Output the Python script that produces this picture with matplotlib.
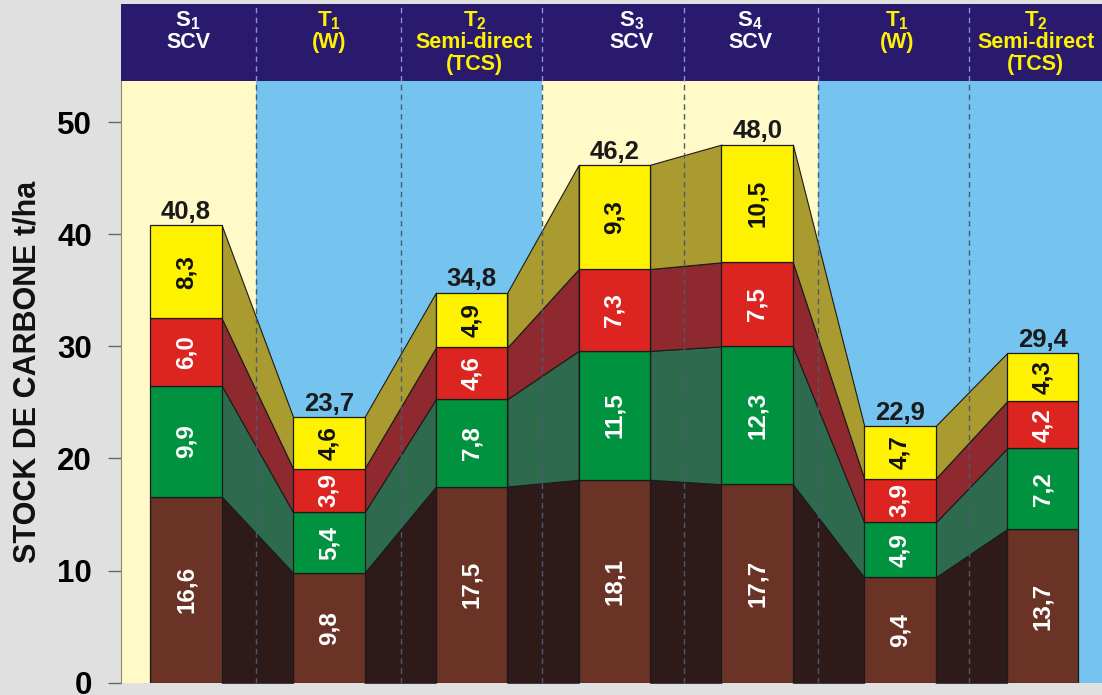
import matplotlib
matplotlib.use("Agg")
import matplotlib.pyplot as plt
from matplotlib.patches import Rectangle

plt.rcParams['font.family'] = ['Liberation Sans', 'DejaVu Sans']
plt.rcParams['font.weight'] = 'bold'
plt.rcParams['mathtext.fontset'] = 'custom'
plt.rcParams['mathtext.bf'] = 'Liberation Sans:bold'
plt.rcParams['mathtext.rm'] = 'Liberation Sans:bold'

# données (t/ha)
treatments = ['S1', 'T1', 'T2', 'S3', 'S4', 'T1', 'T2']
header_top = [r'$\mathbf{S}_{\mathbf{1}}$', r'$\mathbf{T}_{\mathbf{1}}$', r'$\mathbf{T}_{\mathbf{2}}$',
              r'$\mathbf{S}_{\mathbf{3}}$', r'$\mathbf{S}_{\mathbf{4}}$', r'$\mathbf{T}_{\mathbf{1}}$',
              r'$\mathbf{T}_{\mathbf{2}}$']
header_sub = [['SCV'], ['(W)'], ['Semi-direct', '(TCS)'], ['SCV'], ['SCV'], ['(W)'],
              ['Semi-direct', '(TCS)']]
brown = [16.6, 9.8, 17.5, 18.1, 17.7, 9.4, 13.7]
green = [9.9, 5.4, 7.8, 11.5, 12.3, 4.9, 7.2]
red = [6.0, 3.9, 4.6, 7.3, 7.5, 3.9, 4.2]
yellow = [8.3, 4.6, 4.9, 9.3, 10.5, 4.7, 4.3]
totals = ['40,8', '23,7', '34,8', '46,2', '48,0', '22,9', '29,4']
yticks = [0, 10, 20, 30, 40, 50]

layers = [brown, green, red, yellow]
bar_cols = ['#6b3226', '#00923f', '#dc2420', '#fff200']
link_cols = ['#2f1a1a', '#2e6a4e', '#8e2a2f', '#a99b2f']
txt_cols = ['white', 'white', 'white', '#111111']

S_BG = '#fffac8'
T_BG = '#74c4ef'
HEAD = '#2a1a6e'

# géométrie
x = list(range(len(treatments)))
w = 0.5
xmin, xmax = -0.459, 6.415
top_plot = 53.68
ymax = 60.54
bounds = [xmin, 0.49, 1.506, 2.493, 3.487, 4.426, 5.483, xmax]
head_x = [0.014, 1.0, 2.02, 3.12, 3.95, 4.98, 5.95]

fig = plt.figure(figsize=(11.02, 6.95), dpi=100, facecolor='#e0e0e0')
ax = fig.add_axes([120.5 / 1102, 1 - 682.7 / 695, 1 - 120.5 / 1102, 678.7 / 695])
ax.set_facecolor('#e0e0e0')
ax.set_xlim(xmin, xmax)
ax.set_ylim(0, ymax)

# fonds des colonnes + bandeau
for i, t in enumerate(treatments):
    col = S_BG if t.startswith('S') else T_BG
    ax.add_patch(Rectangle((bounds[i], 0), bounds[i + 1] - bounds[i], top_plot,
                           facecolor=col, edgecolor='none', zorder=0))
ax.add_patch(Rectangle((xmin, top_plot), xmax - xmin, ymax - top_plot,
                       facecolor=HEAD, edgecolor='none', zorder=0))

# liaisons entre barres
bottoms = [[0.0] * len(x)]
for lay in layers[:-1]:
    bottoms.append([b + v for b, v in zip(bottoms[-1], lay)])
for k, lay in enumerate(layers):
    b = bottoms[k]
    tops = [bb + v for bb, v in zip(b, lay)]
    for i in range(len(x) - 1):
        xs = [x[i] + w / 2, x[i + 1] - w / 2]
        ax.fill_between(xs, [b[i], b[i + 1]], [tops[i], tops[i + 1]],
                        facecolor=link_cols[k], edgecolor='#1a1a1a', linewidth=0.8, zorder=1)

# séparateurs
for xb in bounds[1:-1]:
    ax.plot([xb, xb], [0, top_plot], color='#4a5a72', lw=1, ls=(0, (4, 3)), zorder=2)
    ax.plot([xb, xb], [top_plot, ymax], color='#8c8cd8', lw=1, ls=(0, (4, 3)), zorder=2)

# barres empilées
for k, lay in enumerate(layers):
    ax.bar(x, lay, w, bottom=bottoms[k], color=bar_cols[k], edgecolor='#1a1a1a',
           linewidth=0.9, zorder=3)
    for i, v in enumerate(lay):
        ax.text(x[i], bottoms[k][i] + v / 2, f'{v:.1f}'.replace('.', ','), rotation=90,
                ha='center', va='center', color=txt_cols[k], fontsize=17.5,
                fontweight='bold', zorder=4)

# totaux
for i, t in enumerate(totals):
    tot = sum(l[i] for l in layers)
    ax.text(x[i], tot + 0.55, t, ha='center', va='baseline', fontsize=18.5,
            fontweight='bold', color='#1a1a1a', zorder=4)

# en-têtes
line_y = [0.976, 0.943, 0.911]
for i, t in enumerate(treatments):
    col = 'white' if t.startswith('S') else '#fff200'
    ax.text(head_x[i], line_y[0], header_top[i], transform=ax.get_xaxis_transform(),
            ha='center', va='center', fontsize=16, color=col, zorder=5)
    for j, s in enumerate(header_sub[i]):
        ax.text(head_x[i], line_y[j + 1], s, transform=ax.get_xaxis_transform(),
                ha='center', va='center', fontsize=15.5, fontweight='bold', color=col, zorder=5)

# axes
for s in ['top', 'right', 'bottom']:
    ax.spines[s].set_visible(False)
ax.spines['left'].set_bounds(0, top_plot)
ax.spines['left'].set_color('#8a8a6a')
ax.set_xticks([])
ax.set_yticks(yticks)
ax.set_yticklabels([str(v) for v in yticks], fontsize=22.5, fontweight='bold')
ax.tick_params(axis='y', length=9.5, width=1, color='#666666', pad=11)

fig.text(28 / 1102, 1 - 372 / 695, 'STOCK DE CARBONE t/ha', rotation=90, ha='center',
         va='center', fontsize=22, fontweight='bold', color='#111111')

fig.savefig('out.png', dpi=100, facecolor=fig.get_facecolor())
